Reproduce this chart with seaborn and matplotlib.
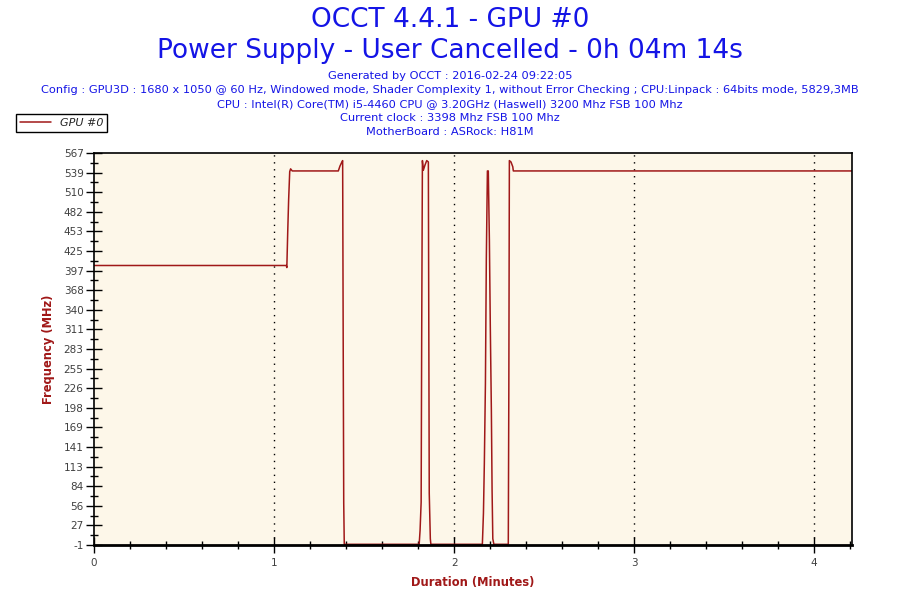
import numpy as np
import pandas as pd
import matplotlib
matplotlib.use("Agg")
import matplotlib.pyplot as plt
import seaborn as sns
from matplotlib.ticker import FixedLocator, MultipleLocator

# ---------------- data ----------------
title_lines = ["OCCT 4.4.1 - GPU #0", "Power Supply - User Cancelled - 0h 04m 14s"]
info_lines = [
    "Generated by OCCT : 2016-02-24 09:22:05",
    "Config : GPU3D : 1680 x 1050 @ 60 Hz, Windowed mode, Shader Complexity 1, without Error Checking ; CPU:Linpack : 64bits mode, 5829,3MB",
    "CPU : Intel(R) Core(TM) i5-4460 CPU @ 3.20GHz (Haswell) 3200 Mhz FSB 100 Mhz",
    "Current clock : 3398 Mhz FSB 100 Mhz",
    "MotherBoard : ASRock: H81M",
]
series_name = "GPU #0"

minutes = [0.000, 1.068, 1.071, 1.076, 1.081, 1.087, 1.092, 1.101,
           1.357, 1.366, 1.375, 1.381, 1.384, 1.387, 1.390,
           1.806, 1.811, 1.817, 1.820, 1.824, 1.829, 1.839, 1.848, 1.857,
           1.862, 1.868, 1.871,
           2.157, 2.163, 2.168, 2.174, 2.179, 2.185, 2.190, 2.196, 2.201,
           2.207, 2.211, 2.215, 2.221,
           2.301, 2.304, 2.307, 2.316, 2.326, 2.329, 4.210]
freq_mhz = [404, 404, 401, 453, 499, 540, 544, 541,
            541, 548, 553, 556, 300, 60, 0,
            0, 20, 61, 300, 556, 542, 550, 556, 554,
            74, 8, 0,
            0, 45, 117, 233, 413, 541, 541, 441, 318,
            194, 78, 8, 0,
            0, 224, 556, 554, 547, 541, 541]

y_tick_labels = ["-1", "27", "56", "84", "113", "141", "169", "198", "226", "255",
                 "283", "311", "340", "368", "397", "425", "453", "482", "510",
                 "539", "567"]
x_tick_labels = ["0", "1", "2", "3", "4"]

df = pd.DataFrame({"Duration": minutes, "Frequency": freq_mhz})

# ---------------- style ----------------
sns.set_theme(style="white")
plt.rcParams["font.family"] = ["DejaVu Sans"]

title_color = "#1414E6"
label_color = "#A01818"
line_color = "#A01818"
bg_color = "#FDF7E9"

fig = plt.figure(figsize=(9, 6), dpi=100)
ax = fig.add_axes([94 / 900, 55 / 600, (852 - 94) / 900, (545 - 153) / 600])
ax.set_facecolor(bg_color)

sns.lineplot(data=df, x="Duration", y="Frequency", ax=ax, color=line_color,
             linewidth=1.1, label=series_name, legend=False)

ax.set_xlim(0, 4.21)
ax.set_ylim(-1, 567)

yt = np.linspace(-1, 567, len(y_tick_labels))
ax.yaxis.set_major_locator(FixedLocator(yt))
ax.set_yticklabels(y_tick_labels)
ax.yaxis.set_minor_locator(FixedLocator((yt[:-1] + yt[1:]) / 2))
ax.xaxis.set_major_locator(FixedLocator(range(len(x_tick_labels))))
ax.set_xticklabels(x_tick_labels)
ax.xaxis.set_minor_locator(MultipleLocator(0.2))

ax.tick_params(axis="both", which="both", bottom=True, left=True,
               top=False, right=False)
ax.tick_params(axis="both", which="major", direction="inout", length=11, width=1,
               color="black", labelsize=7.5, labelcolor="#404040", pad=2)
ax.tick_params(axis="both", which="minor", direction="inout", length=6, width=1,
               color="black")
ax.tick_params(axis="x", which="major", direction="inout", length=12, pad=3)

for xv in range(1, 5):
    ax.axvline(xv, color="black", linestyle=(0, (1, 4)), linewidth=1, zorder=0.5)

for side in ["top", "right", "left", "bottom"]:
    ax.spines[side].set_visible(True)
    ax.spines[side].set_color("black")
    ax.spines[side].set_linewidth(1.2)
ax.spines["bottom"].set_linewidth(2)

ax.set_xlabel("Duration (Minutes)", color=label_color, fontweight="bold",
              fontsize=8.3, labelpad=6)
ax.set_ylabel("Frequency (MHz)", color=label_color, fontweight="bold",
              fontsize=8.3, labelpad=6)

# titles
fig.text(0.5, 1 - 20 / 600, title_lines[0], ha="center", va="center",
         fontsize=19, color=title_color)
fig.text(0.5, 1 - 51 / 600, title_lines[1], ha="center", va="center",
         fontsize=19, color=title_color)
for i, line in enumerate(info_lines):
    fig.text(0.5, 1 - (76 + 14 * i) / 600, line, ha="center", va="center",
             fontsize=8.2, color=title_color)

# legend
handles = ax.get_lines()[:1]
leg = fig.legend(handles, [series_name], loc="upper left",
                 bbox_to_anchor=(16 / 900, 1 - 114 / 600), frameon=True,
                 fancybox=False, edgecolor="black", framealpha=1,
                 prop={"size": 8, "style": "italic"}, handlelength=2.8,
                 borderpad=0.35, handletextpad=0.8, borderaxespad=0)
leg.get_frame().set_linewidth(1)

fig.savefig("out.png", dpi=100, facecolor="white")
